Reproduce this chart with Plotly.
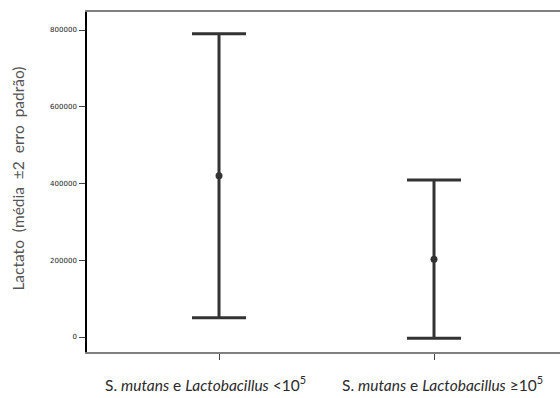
import plotly.graph_objects as go

# Lactate means with ±2 standard-error half-widths per group
groups = ["lt", "ge"]
group_labels = [
    "S. <i>mutans</i> e <i>Lactobacillus</i> <10<sup>5</sup>",
    "S. <i>mutans</i> e <i>Lactobacillus</i> ≥10<sup>5</sup>",
]
means = [420000, 203000]
err2se = [370000, 206000]
y_ticks = [0, 200000, 400000, 600000, 800000]

ink = "#333333"

fig = go.Figure(
    go.Scatter(
        x=groups,
        y=means,
        mode="markers",
        marker=dict(color=ink, size=7),
        error_y=dict(type="data", array=err2se, symmetric=True,
                     color=ink, thickness=3, width=27),
        showlegend=False,
    )
)

# Category labels under each tick, with italic species names
label_shift = [-14, 8]
for g, lab, dx in zip(groups, group_labels, label_shift):
    fig.add_annotation(
        x=g, xref="x", y=0, yref="paper", yanchor="top", yshift=-19,
        xshift=dx, xanchor="center", text=lab, showarrow=False,
        font=dict(family="Lato, Open Sans, sans-serif", size=15.5, color="#2a2a2a"),
    )

# Vertical axis title
fig.add_annotation(
    x=0, xref="paper", xshift=-69, xanchor="center",
    y=0.51, yref="paper", yanchor="middle",
    text="Lactato  (média  ±2  erro  padrão)", textangle=-90,
    showarrow=False,
    font=dict(family="Lato, Open Sans, sans-serif", size=15.5, color="#555555"),
)

fig.update_layout(
    width=560, height=398,
    margin=dict(l=87, r=0, t=12, b=46),
    paper_bgcolor="white", plot_bgcolor="white",
    xaxis=dict(
        type="category", range=[-0.614, 1.586],
        showticklabels=False, showgrid=False, zeroline=False,
        showline=True, linecolor="#808080", linewidth=2, mirror=True,
        ticks="outside", ticklen=6, tickcolor="#444444", tickwidth=1,
    ),
    yaxis=dict(
        range=[-39000, 847000], tickvals=y_ticks,
        ticktext=[str(v) for v in y_ticks],
        showgrid=False, zeroline=False,
        showline=True, linecolor="black", linewidth=1.5,
        ticks="outside", ticklen=6, tickcolor="#444444", tickwidth=1,
        tickfont=dict(family="DejaVu Sans, sans-serif", size=7, color="#222222"),
        ticklabelstandoff=1,
    ),
)

fig.write_html("out.html")
